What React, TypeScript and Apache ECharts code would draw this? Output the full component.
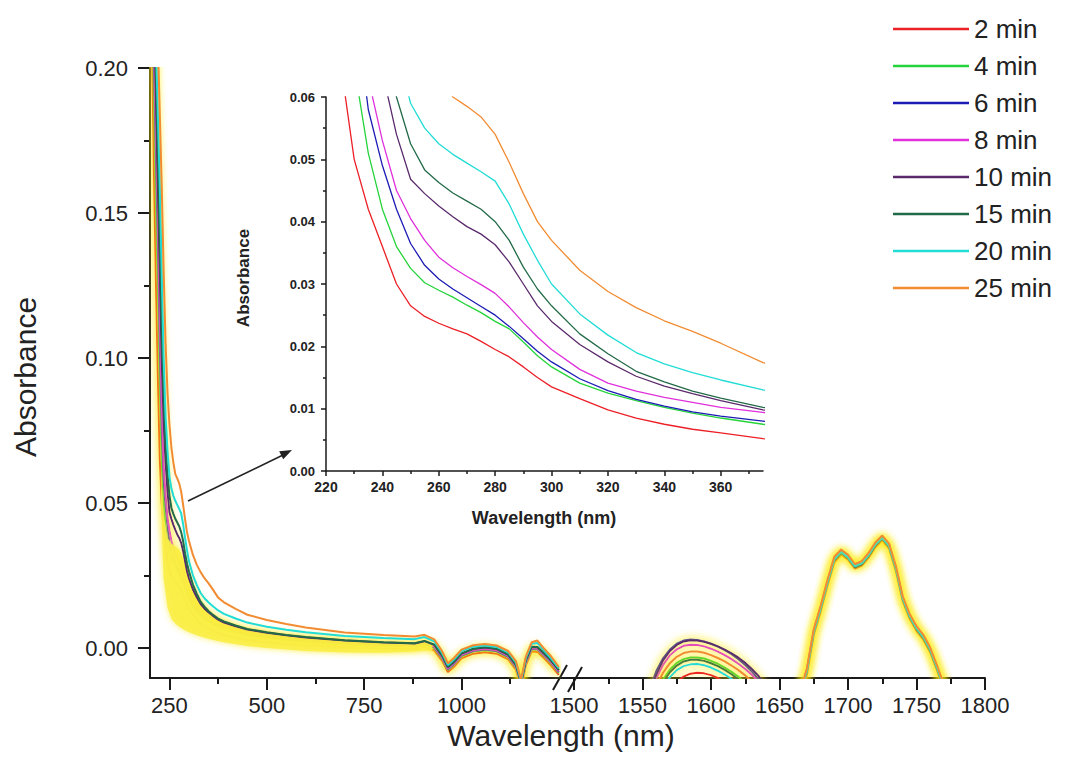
import React, { useEffect, useRef } from "react";
import * as echarts from "echarts";

const seriesNames = ["2 min", "4 min", "6 min", "8 min", "10 min", "15 min", "20 min", "25 min"];
const seriesColors = ["#ec2027", "#25d43a", "#1c1cb4", "#e030dc", "#5a2a6c", "#236b48", "#22dcd6", "#f28c32"];

// wavelengths of the UV-Vis-NIR part (left segment, also used by the inset)
const wlLeft = [200, 205, 210, 215, 220, 225, 230, 235, 240, 245, 250, 255, 260, 265, 270, 275, 280, 285, 290, 295, 300, 310, 320, 330, 340, 350, 360, 375,
  390, 420, 450, 500, 550, 600, 700, 800, 880, 905, 930, 950, 965, 980, 1000, 1030, 1060, 1090, 1120, 1140, 1153, 1165, 1180, 1195, 1210, 1230, 1250];

const left2 = [0.26, 0.21, 0.165, 0.128, 0.095, 0.066, 0.050, 0.042, 0.036, 0.030, 0.0265, 0.0248, 0.0237, 0.0228, 0.0220, 0.0208, 0.0195, 0.0183, 0.0167, 0.0150, 0.0135, 0.0116, 0.0098, 0.0085, 0.0075, 0.0067, 0.0061, 0.0052,
  0.0045, 0.0035, 0.0027, 0.0019, 0.0013, 0.0009, 0.0003, -0.0001, -0.0003, 0.0005, -0.0008, -0.0044, -0.0082, -0.0065, -0.0035, -0.0019, -0.0014, -0.0019, -0.0039, -0.0075, -0.0137, -0.0060, -0.0012, -0.0013, -0.0032, -0.0060, -0.0092];
const left4 = [0.27, 0.23, 0.19, 0.155, 0.125, 0.092, 0.065, 0.051, 0.042, 0.036, 0.0325, 0.0302, 0.0290, 0.0279, 0.0266, 0.0254, 0.0240, 0.0228, 0.0207, 0.0185, 0.0167, 0.0141, 0.0125, 0.0113, 0.0102, 0.0093, 0.0085, 0.0075,
  0.0066, 0.0054, 0.0044, 0.0035, 0.0027, 0.0021, 0.0013, 0.0008, 0.0005, 0.0013, 0.0000, -0.0036, -0.0075, -0.0058, -0.0028, -0.0012, -0.0007, -0.0012, -0.0032, -0.0068, -0.0130, -0.0052, -0.0005, -0.0006, -0.0025, -0.0052, -0.0085];
const left6 = [0.27, 0.24, 0.20, 0.17, 0.14, 0.105, 0.076, 0.058, 0.049, 0.042, 0.0365, 0.0330, 0.0308, 0.0292, 0.0278, 0.0264, 0.0250, 0.0232, 0.0212, 0.0192, 0.0175, 0.0148, 0.0129, 0.0115, 0.0104, 0.0095, 0.0088, 0.0080,
  0.0071, 0.0058, 0.0048, 0.0038, 0.0030, 0.0024, 0.0015, 0.0010, 0.0007, 0.0015, 0.0002, -0.0034, -0.0073, -0.0056, -0.0026, -0.0010, -0.0005, -0.0010, -0.0030, -0.0066, -0.0128, -0.0050, -0.0003, -0.0004, -0.0023, -0.0050, -0.0083];
const left8 = [0.28, 0.25, 0.21, 0.18, 0.15, 0.115, 0.085, 0.063, 0.053, 0.045, 0.0405, 0.0370, 0.0343, 0.0326, 0.0312, 0.0299, 0.0285, 0.0263, 0.0238, 0.0215, 0.0195, 0.0163, 0.0141, 0.0128, 0.0118, 0.0110, 0.0102, 0.0094,
  0.0083, 0.0068, 0.0057, 0.0046, 0.0037, 0.0030, 0.0020, 0.0014, 0.0011, 0.0019, 0.0006, -0.0030, -0.0070, -0.0053, -0.0023, -0.0007, -0.0002, -0.0007, -0.0027, -0.0063, -0.0125, -0.0047, 0.0000, -0.0001, -0.0020, -0.0047, -0.0080];
const left10 = [0.28, 0.26, 0.22, 0.19, 0.16, 0.13, 0.10, 0.078, 0.064, 0.054, 0.0468, 0.0445, 0.0425, 0.0408, 0.0392, 0.0380, 0.0363, 0.0335, 0.0300, 0.0265, 0.0240, 0.0203, 0.0175, 0.0152, 0.0136, 0.0124, 0.0113, 0.0098,
  0.0088, 0.0075, 0.0064, 0.0053, 0.0044, 0.0037, 0.0026, 0.0019, 0.0016, 0.0024, 0.0011, -0.0026, -0.0066, -0.0049, -0.0019, -0.0003, 0.0002, -0.0003, -0.0023, -0.0059, -0.0121, -0.0043, 0.0004, 0.0003, -0.0016, -0.0043, -0.0076];
const left15 = [0.29, 0.27, 0.23, 0.20, 0.17, 0.14, 0.11, 0.086, 0.070, 0.060, 0.0525, 0.0483, 0.0463, 0.0446, 0.0433, 0.0420, 0.0400, 0.0370, 0.0327, 0.0292, 0.0265, 0.0220, 0.0188, 0.0160, 0.0143, 0.0128, 0.0117, 0.0102,
  0.0092, 0.0078, 0.0066, 0.0055, 0.0045, 0.0038, 0.0027, 0.0020, 0.0017, 0.0025, 0.0012, -0.0025, -0.0065, -0.0048, -0.0018, -0.0002, 0.0003, -0.0002, -0.0022, -0.0058, -0.0120, -0.0042, 0.0005, 0.0004, -0.0015, -0.0042, -0.0075];
const left20 = [0.29, 0.27, 0.24, 0.21, 0.185, 0.16, 0.13, 0.10, 0.080, 0.068, 0.0590, 0.0550, 0.0525, 0.0508, 0.0494, 0.0480, 0.0465, 0.0428, 0.0380, 0.0338, 0.0300, 0.0252, 0.0218, 0.0190, 0.0172, 0.0158, 0.0146, 0.0130,
  0.0118, 0.0102, 0.0088, 0.0074, 0.0063, 0.0055, 0.0042, 0.0035, 0.0031, 0.0038, 0.0023, -0.0016, -0.0058, -0.0040, -0.0010, 0.0005, 0.0009, 0.0004, -0.0015, -0.0050, -0.0115, -0.0035, 0.0015, 0.0018, -0.0005, -0.0035, -0.0070];
const left25 = [0.30, 0.28, 0.26, 0.235, 0.21, 0.185, 0.16, 0.13, 0.105, 0.088, 0.077, 0.069, 0.064, 0.0600, 0.0585, 0.0568, 0.0540, 0.0495, 0.0445, 0.0400, 0.0370, 0.0322, 0.0288, 0.0262, 0.0241, 0.0224, 0.0205, 0.0174,
  0.0158, 0.0135, 0.0115, 0.0097, 0.0083, 0.0071, 0.0054, 0.0045, 0.0040, 0.0046, 0.0030, -0.0010, -0.0052, -0.0035, -0.0005, 0.0010, 0.0014, 0.0009, -0.0010, -0.0045, -0.0110, -0.0030, 0.0020, 0.0026, 0.0002, -0.0028, -0.0065];

// wavelengths of the right segment (1500-1800 nm)
const wlRight = [1540, 1550, 1555, 1560, 1565, 1570, 1575, 1580, 1585, 1590, 1595, 1600, 1605, 1610, 1615, 1620, 1625, 1630, 1635, 1640, 1650, 1660,
  1665, 1670, 1675, 1680, 1685, 1690, 1695, 1700, 1705, 1710, 1715, 1720, 1725, 1730, 1735, 1740, 1745, 1750, 1755, 1760, 1765, 1770, 1780, 1800];

const right2 = [-0.04, -0.035, -0.030, -0.025, -0.020, -0.0155, -0.0118, -0.0098, -0.0088, -0.0085, -0.0087, -0.0093, -0.0103, -0.0117, -0.0135, -0.0155, -0.018, -0.021, -0.024, -0.027, -0.035, -0.04,
  -0.017, -0.0092, 0.0045, 0.0125, 0.0215, 0.0295, 0.0322, 0.0305, 0.0274, 0.0284, 0.0311, 0.0348, 0.0371, 0.0343, 0.0265, 0.0161, 0.0101, 0.0059, 0.0029, -0.0015, -0.0077, -0.0142, -0.026, -0.03];
const right4 = [-0.03, -0.028, -0.022, -0.0155, -0.0108, -0.0074, -0.0051, -0.0038, -0.0032, -0.0032, -0.0036, -0.0044, -0.0054, -0.0067, -0.0082, -0.0099, -0.0119, -0.0142, -0.017, -0.020, -0.028, -0.03,
  -0.016, -0.008, 0.0055, 0.0135, 0.0225, 0.0305, 0.0330, 0.0312, 0.0280, 0.0290, 0.0318, 0.0355, 0.0378, 0.0350, 0.0272, 0.0168, 0.0108, 0.0066, 0.0036, -0.0008, -0.0070, -0.0135, -0.025, -0.03];
const right6 = [-0.03, -0.022, -0.0145, -0.0080, -0.0035, -0.0005, 0.0015, 0.0026, 0.0030, 0.0028, 0.0023, 0.0015, 0.0005, -0.0007, -0.0021, -0.0038, -0.0058, -0.0082, -0.0110, -0.0145, -0.022, -0.03,
  -0.0155, -0.0075, 0.0060, 0.0140, 0.0230, 0.0310, 0.0335, 0.0317, 0.0285, 0.0295, 0.0323, 0.0360, 0.0383, 0.0355, 0.0277, 0.0173, 0.0113, 0.0071, 0.0041, -0.0003, -0.0065, -0.0130, -0.024, -0.03];
const right8 = [-0.03, -0.024, -0.018, -0.0105, -0.0058, -0.0025, -0.0004, 0.0008, 0.0012, 0.0011, 0.0006, -0.0002, -0.0012, -0.0024, -0.0038, -0.0054, -0.0072, -0.0093, -0.0118, -0.015, -0.024, -0.03,
  -0.0152, -0.0072, 0.0062, 0.0142, 0.0232, 0.0312, 0.0337, 0.0319, 0.0287, 0.0297, 0.0325, 0.0362, 0.0385, 0.0357, 0.0279, 0.0175, 0.0115, 0.0073, 0.0043, -0.0001, -0.0063, -0.0128, -0.024, -0.03];
const right10 = [-0.03, -0.022, -0.0155, -0.0092, -0.0042, -0.0010, 0.0011, 0.0023, 0.0027, 0.0026, 0.0022, 0.0015, 0.0006, -0.0005, -0.0018, -0.0033, -0.0051, -0.0073, -0.0098, -0.0130, -0.022, -0.03,
  -0.0155, -0.0076, 0.0058, 0.0138, 0.0228, 0.0308, 0.0333, 0.0315, 0.0283, 0.0293, 0.0321, 0.0358, 0.0381, 0.0353, 0.0275, 0.0171, 0.0111, 0.0069, 0.0039, -0.0005, -0.0067, -0.0132, -0.024, -0.03];
const right15 = [-0.03, -0.029, -0.023, -0.0165, -0.0117, -0.0083, -0.0060, -0.0046, -0.0040, -0.0040, -0.0044, -0.0052, -0.0062, -0.0075, -0.0090, -0.0108, -0.0128, -0.015, -0.018, -0.021, -0.029, -0.03,
  -0.0162, -0.0082, 0.0052, 0.0132, 0.0222, 0.0302, 0.0327, 0.0309, 0.0278, 0.0288, 0.0316, 0.0353, 0.0376, 0.0348, 0.0270, 0.0166, 0.0106, 0.0064, 0.0034, -0.0010, -0.0072, -0.0137, -0.025, -0.03];
const right20 = [-0.03, -0.030, -0.025, -0.019, -0.0138, -0.0100, -0.0076, -0.0062, -0.0056, -0.0055, -0.0059, -0.0067, -0.0078, -0.0091, -0.0106, -0.0124, -0.0145, -0.017, -0.020, -0.023, -0.030, -0.03,
  -0.0158, -0.0078, 0.0056, 0.0136, 0.0226, 0.0306, 0.0331, 0.0313, 0.0282, 0.0292, 0.0320, 0.0357, 0.0380, 0.0352, 0.0274, 0.0170, 0.0110, 0.0068, 0.0038, -0.0006, -0.0068, -0.0133, -0.024, -0.03];
const right25 = [-0.03, -0.026, -0.020, -0.0130, -0.0085, -0.0052, -0.0030, -0.0017, -0.0012, -0.0012, -0.0016, -0.0024, -0.0034, -0.0046, -0.0060, -0.0076, -0.0094, -0.0115, -0.014, -0.017, -0.026, -0.03,
  -0.0150, -0.0070, 0.0065, 0.0145, 0.0235, 0.0315, 0.0340, 0.0322, 0.0290, 0.0300, 0.0328, 0.0365, 0.0388, 0.0360, 0.0282, 0.0178, 0.0118, 0.0076, 0.0046, 0.0002, -0.0060, -0.0125, -0.023, -0.03];

// yellow band under the upper curves (left segment)
const bandWl = [228, 235, 245, 255, 265, 275, 285, 295, 305, 320, 340, 360, 380, 400, 450, 500, 600, 700, 800, 880, 905, 925];
const bandHigh = [0.060, 0.046, 0.038, 0.036, 0.035, 0.034, 0.031, 0.027, 0.0225, 0.0182, 0.0141, 0.0115, 0.0097, 0.0086, 0.0065, 0.0054, 0.0037, 0.0026, 0.0019, 0.0016, 0.0024, 0.0013];
const bandLow = [0.050, 0.024, 0.014, 0.0100, 0.0085, 0.0074, 0.0065, 0.0058, 0.0052, 0.0044, 0.0036, 0.0029, 0.0023, 0.0018, 0.0007, 0.0000, -0.0010, -0.0015, -0.0016, -0.0012, -0.0008, -0.0010];

const mainXTicks = [250, 500, 750, 1000];
const mainXMinor = [375, 625, 875, 1125];
const mainYTicks = [0, 0.05, 0.1, 0.15, 0.2];
const mainYMinor = [0.025, 0.075, 0.125, 0.175];
const insetXTicks = [220, 240, 260, 280, 300, 320, 340, 360];
const insetXMinor = [230, 250, 270, 290, 310, 330, 350, 370];

const leftVals = [left2, left4, left6, left8, left10, left15, left20, left25];
const rightVals = [right2, right4, right6, right8, right10, right15, right20, right25];

const FONT = "'Liberation Sans', Arial, Helvetica, sans-serif";
const AXIS = "#1a1a1a";
const GLOW = { shadowColor: "rgba(255, 232, 0, 0.9)", shadowBlur: 8 };

function pairs(wl: number[], vals: number[]) {
  return wl.map((w, k) => [w, vals[k]]);
}

export default function App() {
  const ref = useRef<HTMLDivElement>(null);
  useEffect(() => {
    if (!ref.current) return;
    const chart = echarts.init(ref.current, null, { renderer: "svg" });

    const insetSeries = seriesNames.map((n, i) => ({
      name: n, type: "line", xAxisIndex: 3, yAxisIndex: 3, data: pairs(wlLeft, leftVals[i]),
      symbol: "none", silent: true, z: 5,
      lineStyle: { color: seriesColors[i], width: 1.3 }, itemStyle: { color: seriesColors[i] },
    }));
    const mainLeft = (i: number, glow: boolean, z: number) => ({
      name: seriesNames[i], type: "line", xAxisIndex: 0, yAxisIndex: 0, data: pairs(wlLeft, leftVals[i]),
      symbol: "none", silent: true, z,
      lineStyle: Object.assign({ color: seriesColors[i], width: 2 }, glow ? GLOW : {}),
      itemStyle: { color: seriesColors[i] },
    });
    const mainRight = (i: number) => ({
      name: seriesNames[i], type: "line", xAxisIndex: 2, yAxisIndex: 2, data: pairs(wlRight, rightVals[i]),
      symbol: "none", silent: true, z: 4,
      lineStyle: Object.assign({ color: seriesColors[i], width: 2 }, GLOW),
      itemStyle: { color: seriesColors[i] },
    });
    const band = {
      type: "custom", xAxisIndex: 0, yAxisIndex: 0, z: 3, clip: true, silent: true,
      data: bandWl.map((w, i) => [w, bandHigh[i], bandLow[i]]),
      encode: { x: 0, y: [1, 2] },
      renderItem: (params: any, api: any) => {
        if (params.dataIndex !== 0) return null;
        const top = bandWl.map((w, i) => api.coord([w, bandHigh[i]]));
        const bot = bandWl.map((w, i) => api.coord([w, bandLow[i]])).reverse();
        return {
          type: "polygon", shape: { points: top.concat(bot) },
          style: { fill: "rgba(250, 238, 70, 0.9)", shadowColor: "rgba(250,238,70,0.9)", shadowBlur: 6 },
        };
      },
    };

    const plain = (v: number) => String(v);
    const bigLabel = { fontSize: 22, color: "#222", fontFamily: FONT };
    const smallLabel = { fontSize: 13, color: "#222", fontFamily: FONT, fontWeight: "bold" as const };
    const tickStyle = { color: AXIS, width: 2 };

    const option: any = {
      animation: false,
      backgroundColor: "#ffffff",
      grid: [
        { left: 150, top: 68, width: 410, height: 610 },
        { left: 574, top: 68, width: 411, height: 610 },
        { left: 326, top: 97, width: 437, height: 374 },
      ],
      legend: {
        data: seriesNames, orient: "vertical", left: 893, top: 16, padding: 0,
        icon: "rect", itemWidth: 76, itemHeight: 2.5, itemGap: 11, selectedMode: false,
        textStyle: { fontSize: 26, color: "#222", fontFamily: FONT, lineHeight: 26 },
      },
      xAxis: [
        {
          gridIndex: 0, type: "value", min: 200, max: 1253, position: "bottom",
          axisLine: { show: true, onZero: false, lineStyle: tickStyle },
          axisTick: { show: true, customValues: mainXTicks, length: 12, lineStyle: tickStyle },
          axisLabel: { show: true, customValues: mainXTicks, margin: 16, formatter: plain, ...bigLabel },
          splitLine: { show: false },
        },
        {
          gridIndex: 0, type: "value", min: 200, max: 1253, position: "bottom",
          axisLine: { show: false, onZero: false },
          axisTick: { show: true, customValues: mainXMinor, length: 6, lineStyle: tickStyle },
          axisLabel: { show: false }, splitLine: { show: false },
        },
        {
          gridIndex: 1, type: "value", min: 1500, max: 1800, interval: 50, position: "bottom",
          axisLine: { show: true, onZero: false, lineStyle: tickStyle },
          axisTick: { show: true, length: 12, lineStyle: tickStyle },
          minorTick: { show: true, splitNumber: 2, length: 6, lineStyle: tickStyle },
          axisLabel: { show: true, margin: 16, formatter: plain, ...bigLabel },
          splitLine: { show: false }, minorSplitLine: { show: false },
        },
        {
          gridIndex: 2, type: "value", min: 220, max: 375, position: "bottom",
          axisLine: { show: true, onZero: false, lineStyle: { color: AXIS, width: 1.5 } },
          axisTick: { show: true, customValues: insetXTicks, length: 5, lineStyle: { color: AXIS, width: 1.5 } },
          axisLabel: { show: true, customValues: insetXTicks, margin: 9, formatter: plain, ...smallLabel, fontSize: 14 },
          splitLine: { show: false },
        },
        {
          gridIndex: 2, type: "value", min: 220, max: 375, position: "bottom",
          axisLine: { show: false, onZero: false },
          axisTick: { show: true, customValues: insetXMinor, length: 3, lineStyle: { color: AXIS, width: 1.5 } },
          axisLabel: { show: false }, splitLine: { show: false },
        },
      ],
      yAxis: [
        {
          gridIndex: 0, type: "value", min: -0.0103, max: 0.2, position: "left",
          axisLine: { show: true, onZero: false, lineStyle: tickStyle },
          axisTick: { show: true, customValues: mainYTicks, length: 12, lineStyle: tickStyle },
          axisLabel: { show: true, customValues: mainYTicks, margin: 22, ...bigLabel, formatter: (v: number) => v.toFixed(2) },
          splitLine: { show: false },
        },
        {
          gridIndex: 0, type: "value", min: -0.0103, max: 0.2, position: "left",
          axisLine: { show: false, onZero: false },
          axisTick: { show: true, customValues: mainYMinor, length: 6, lineStyle: tickStyle },
          axisLabel: { show: false }, splitLine: { show: false },
        },
        { gridIndex: 1, type: "value", min: -0.0103, max: 0.2, show: false, splitLine: { show: false } },
        {
          gridIndex: 2, type: "value", min: 0, max: 0.06, interval: 0.01, position: "left",
          axisLine: { show: true, onZero: false, lineStyle: { color: AXIS, width: 1.5 } },
          axisTick: { show: true, length: 5, lineStyle: { color: AXIS, width: 1.5 } },
          minorTick: { show: true, splitNumber: 2, length: 3, lineStyle: { color: AXIS, width: 1.5 } },
          axisLabel: { show: true, margin: 11, ...smallLabel, formatter: (v: number) => v.toFixed(2) },
          splitLine: { show: false }, minorSplitLine: { show: false },
        },
      ],
      graphic: [
        { type: "line", shape: { x1: 560, y1: 678, x2: 574, y2: 678 }, style: { stroke: AXIS, lineWidth: 2 } },
        { type: "line", shape: { x1: 553, y1: 690, x2: 567, y2: 665 }, style: { stroke: AXIS, lineWidth: 2 } },
        { type: "line", shape: { x1: 568, y1: 692, x2: 582, y2: 667 }, style: { stroke: AXIS, lineWidth: 2 } },
        { type: "line", shape: { x1: 188, y1: 501, x2: 283, y2: 455 }, style: { stroke: "#222", lineWidth: 1.5 } },
        { type: "polygon", shape: { points: [[292, 450], [283.2, 459.3], [279.2, 451.3]] }, style: { fill: "#222" } },
        {
          type: "text", x: 561, y: 735,
          style: { text: "Wavelength (nm)", fontSize: 30, fontFamily: FONT, fill: "#222", align: "center", verticalAlign: "middle" },
        },
        {
          type: "text", x: 25, y: 377, rotation: Math.PI / 2,
          style: { text: "Absorbance", fontSize: 30, fontFamily: FONT, fill: "#222", align: "center", verticalAlign: "middle" },
        },
        {
          type: "text", x: 544, y: 518,
          style: { text: "Wavelength (nm)", fontSize: 18, fontWeight: "bold", fontFamily: FONT, fill: "#222", align: "center", verticalAlign: "middle" },
        },
        {
          type: "text", x: 243, y: 278, rotation: Math.PI / 2,
          style: { text: "Absorbance", fontSize: 17, fontWeight: "bold", fontFamily: FONT, fill: "#222", align: "center", verticalAlign: "middle" },
        },
      ],
      series: [
        ...insetSeries,
        mainLeft(0, true, 2), mainLeft(1, true, 2), mainLeft(2, true, 2), mainLeft(3, true, 2),
        band,
        mainLeft(4, true, 4), mainLeft(5, false, 4), mainLeft(6, false, 4), mainLeft(7, false, 4),
        ...seriesNames.map((_, i) => mainRight(i)),
      ],
    };
    chart.setOption(option);
    return () => chart.dispose();
  }, []);
  return (
    <div
      ref={ref}
      style={{ position: "fixed", left: 0, top: 0, width: 1070, height: 771, background: "#fff" }}
    />
  );
}
